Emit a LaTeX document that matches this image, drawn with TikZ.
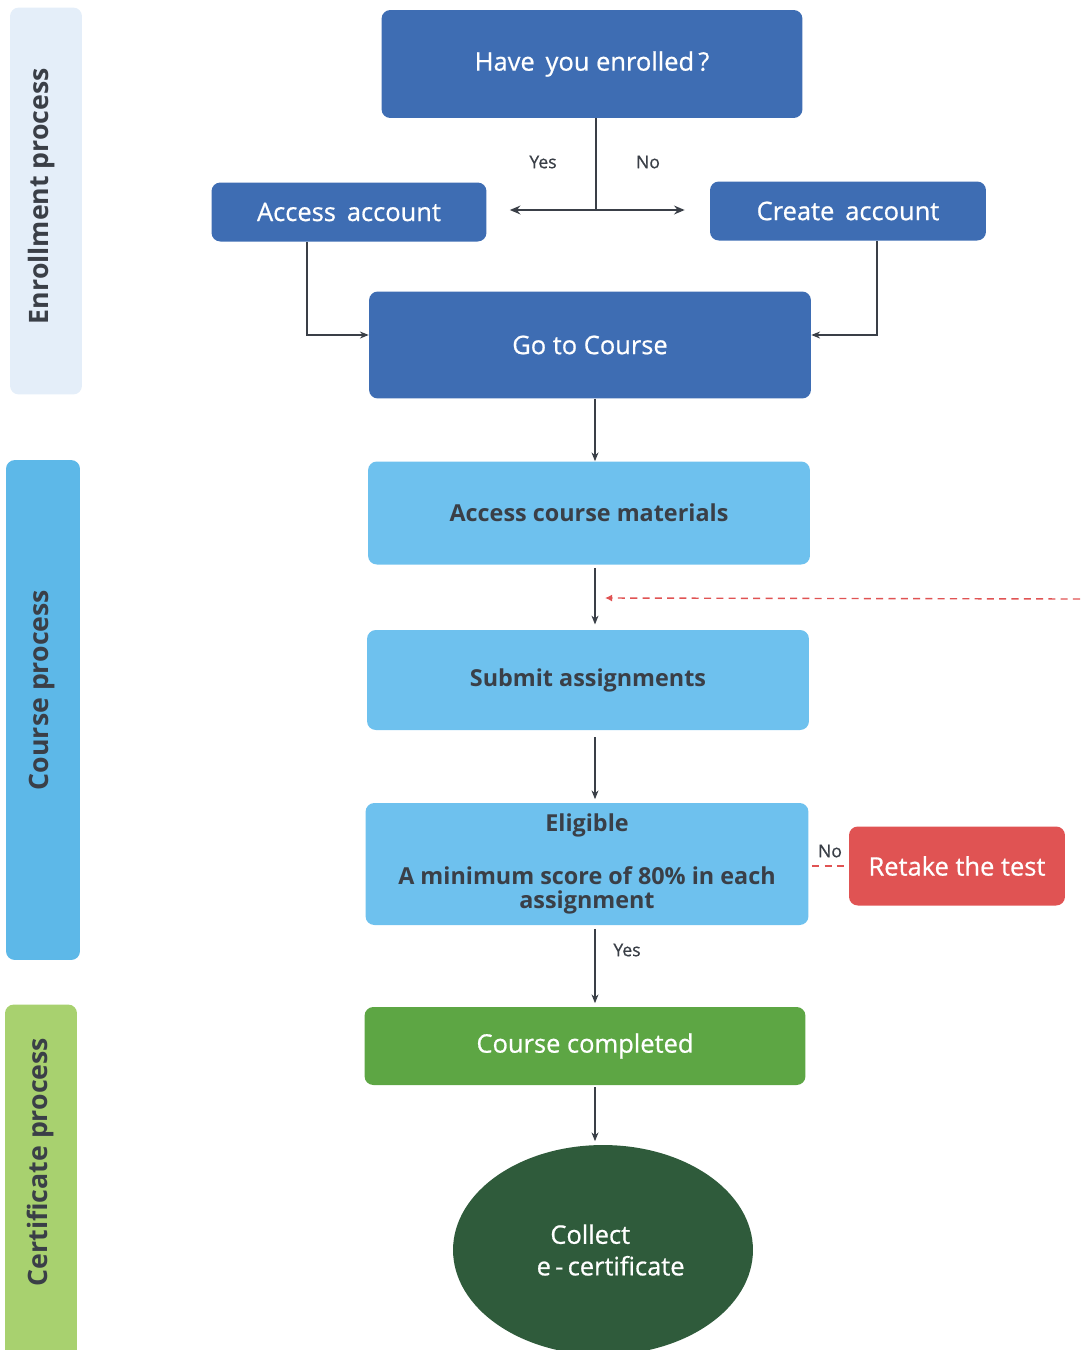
\documentclass[tikz,border=0pt]{standalone}
\usepackage{fontspec}
\setmainfont{Open Sans}
\setsansfont{Open Sans}
\newfontfamily\semisans[FakeBold=0.7]{Open Sans}
\usetikzlibrary{arrows.meta,positioning,shapes.geometric,calc}
\definecolor{enrblue}{HTML}{3E6DB3}
\definecolor{crsblue}{HTML}{6EC1EE}
\definecolor{barpale}{HTML}{E4EEF9}
\definecolor{barblue}{HTML}{5DB8E8}
\definecolor{certgreen}{HTML}{5DA644}
\definecolor{barlime}{HTML}{A8D16F}
\definecolor{darkleaf}{HTML}{2F5B3B}
\definecolor{retakered}{HTML}{E05353}
\definecolor{inkgrey}{HTML}{3A3F47}
\tikzset{
  >=Stealth,
  font=\sffamily,
  stepbox/.style={rounded corners=5pt,inner sep=4pt,align=center,
                  font=\semisans\fontsize{14.5}{17}\selectfont},
  darkbox/.style={stepbox,fill=enrblue,text=white},
  lightbox/.style={stepbox,fill=crsblue,text=inkgrey,
                   font=\sffamily\bfseries\fontsize{13.3}{14}\selectfont},
  sideband/.style={rounded corners=5pt},
  bandlbl/.style={rotate=90,text=inkgrey,font=\sffamily\bfseries\fontsize{15.2}{17}\selectfont},
  flow/.style={-{Stealth[length=5pt,width=4pt]},line width=0.7pt,draw=inkgrey},
  split/.style={{Stealth[length=6pt,width=5pt]}-{Stealth[length=6pt,width=5pt]},
                line width=1.4pt,draw=inkgrey},
  retry/.style={line width=0.8pt,draw=retakered,dash pattern=on 4pt off 3pt},
  lbl/.style={font=\semisans\fontsize{10}{12}\selectfont,text=inkgrey},
}

\begin{document}
\begin{tikzpicture}[x=0.02cm,y=-0.02cm]
  \useasboundingbox (0,0) rectangle (1083,1350);

  % side bands
  \node[sideband,fill=barpale,minimum width=1.44cm,minimum height=7.74cm]
    (enrolband) at (46,201) {};
  \node[sideband,fill=barblue,minimum width=1.48cm,minimum height=10cm]
    (courseband) at (43,710) {};
  \node[sideband,fill=barlime,minimum width=1.44cm,minimum height=7.1cm]
    (certband) at (41,1182) {};
  \node[bandlbl] (enrollbl) at (42,196) {Enrollment process};
  \node[bandlbl] (courselbl) at (42,690) {Course process};
  \node[bandlbl] (certlbl) at (40,1162) {Certificate process};

  % enrollment
  \node[darkbox,minimum width=8.42cm,minimum height=2.16cm] (enrol) at (592,64)
    {Have\, you enrolled\,?};
  \node[darkbox,minimum width=5.5cm,minimum height=1.18cm] (access) at (349,212)
    {Access\, account};
  \node[darkbox,minimum width=5.52cm,minimum height=1.18cm] (create) at (848,211)
    {Create\, account};
  \node[darkbox,minimum width=8.84cm,minimum height=2.14cm] (gocourse) at (590,345)
    {Go to Course};

  % course
  \node[lightbox,minimum width=8.84cm,minimum height=2.06cm] (materials) at (589,513)
    {Access course materials};
  \node[lightbox,minimum width=8.84cm,minimum height=2cm] (submit) at (588,680)
    {Submit assignments};
  \node[lightbox,minimum width=8.86cm,minimum height=2.44cm] (eligible) at (587,864)
    {Eligible\\[16pt]A minimum score of 80\% in each\\assignment};
  \node[stepbox,fill=retakered,text=white,minimum width=4.32cm,minimum height=1.58cm]
    (retake) at (957,866) {Retake the test};

  % certificate
  \node[stepbox,fill=certgreen,text=white,minimum width=8.82cm,minimum height=1.56cm]
    (completed) at (585,1046) {Course completed};
  \node[ellipse,fill=darkleaf,text=white,minimum width=6cm,minimum height=4.2cm,
        align=center,font=\semisans\fontsize{14.5}{18}\selectfont] (ecert) at (603,1250)
    {Collect\hspace*{1em}\\\hspace*{0.6em}e\,-\,certificate};

  % connectors
  \coordinate (spine) at (595,0);
  \coordinate (fork) at (596,210);
  \draw[line width=0.7pt,draw=inkgrey] (enrol.south -| fork) -- (fork);
  \draw[split] ($(access.east)+(23,-2)$) -- ($(create.west)+(-25,-1)$);
  \node[lbl] (yes1) at (543,162) {Yes};
  \node[lbl] (no1) at (648,162) {No};

  \draw[flow] ([xshift=-0.84cm]access.south) |- (gocourse.west |- 0,335);
  \draw[flow] ([xshift=0.58cm]create.south) |- (gocourse.east |- 0,335);

  \draw[flow] (gocourse.south -| spine) -- (materials.north -| spine);
  \draw[flow] ([yshift=-2pt]materials.south -| spine) -- ([yshift=3pt]submit.north -| spine);
  \draw[flow] ([yshift=-4pt]submit.south -| spine) -- ([yshift=2pt]eligible.north -| spine);
  \draw[flow] ([yshift=-2pt]eligible.south -| spine) -- ([yshift=2pt]completed.north -| spine);
  \node[lbl] (yes2) at (627,950) {Yes};
  \draw[flow] ([yshift=-1pt]completed.south -| spine) -- ([yshift=2pt]ecert.north -| spine);

  \draw[retry] ([xshift=2pt]eligible.east |- retake.west) -- (retake.west);
  \node[lbl] (no2) at (830,851) {No};

  \coordinate (retryin) at (1080,599);
  \draw[retry,-{Latex[length=4pt,width=4pt]}] (retryin) -- ($(spine |- retryin)+(10,-1)$);
\end{tikzpicture}
\end{document}
